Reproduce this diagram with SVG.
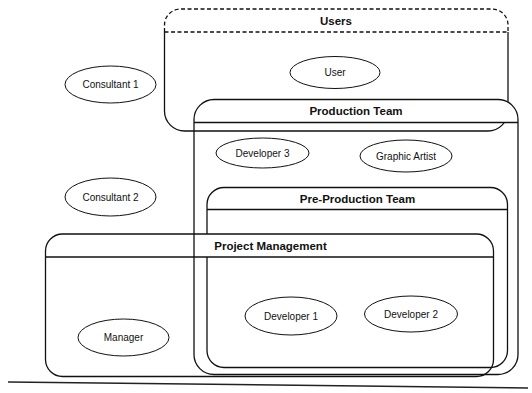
<svg xmlns="http://www.w3.org/2000/svg" width="532" height="393" viewBox="0 0 532 393">
  <style>
    .frame { fill: none; stroke: #111; stroke-width: 1.3; }
    .dash { fill: none; stroke: #111; stroke-width: 1.3; stroke-dasharray: 4 2.5; }
    .mask { fill: #fff; stroke: none; }
    .actor { fill: #fff; stroke: #111; stroke-width: 1; }
    .title { font-family: "Liberation Sans", Arial, sans-serif; font-size: 11.5px; font-weight: bold; fill: #111; text-anchor: middle; }
    .label { font-family: "Liberation Sans", Arial, sans-serif; font-size: 10px; fill: #111; text-anchor: middle; }
  </style>
  <rect width="532" height="393" fill="#fff"/>

  <!-- Users swimlane: dashed header, solid body -->
  <g id="users">
    <path class="dash" d="M164.5,32 V25 A16,16 0 0 1 180.5,9 H492 A16,16 0 0 1 508,25 V32"/>
    <path class="dash" d="M164.5,32 H508"/>
    <path class="frame" d="M508,32 V111 A20,20 0 0 1 488,131 H184.5 A20,20 0 0 1 164.5,111 V32"/>
    <text class="title" x="336" y="24.5">Users</text>
  </g>

  <g id="user">
    <ellipse class="actor" cx="335" cy="72.5" rx="45" ry="16"/>
    <text class="label" x="335" y="76">User</text>
  </g>

  <g id="consultant-1">
    <ellipse class="actor" cx="110.5" cy="84.5" rx="45.5" ry="18.5"/>
    <text class="label" x="110.5" y="88">Consultant 1</text>
  </g>

  <g id="consultant-2">
    <ellipse class="actor" cx="110.5" cy="197" rx="45.5" ry="19"/>
    <text class="label" x="110.5" y="200.5">Consultant 2</text>
  </g>

  <!-- Pre-Production Team -->
  <g id="pre-production-team">
    <rect class="frame" x="207" y="187.5" width="300.5" height="180" rx="17"/>
    <path class="frame" d="M207,209.5 H507.5"/>
    <text class="title" x="357.5" y="202.5">Pre-Production Team</text>
  </g>

  <!-- Project Management: opaque header band -->
  <g id="project-management">
    <path class="mask" d="M45.5,257 V251 A17,17 0 0 1 62.5,234 H476.5 A17,17 0 0 1 493.5,251 V257 Z"/>
    <rect class="frame" x="45.5" y="234" width="448" height="142.5" rx="17"/>
    <path class="frame" d="M45.5,257 H493.5"/>
    <text class="title" x="270.5" y="249.5">Project Management</text>
  </g>

  <!-- Production Team: opaque header band over the Users lane -->
  <g id="production-team">
    <path class="mask" d="M194,122.5 V119.5 A20,20 0 0 1 214,99.5 H498 A20,20 0 0 1 518,119.5 V122.5 Z"/>
    <rect class="frame" x="194" y="99.5" width="324" height="275" rx="20"/>
    <path class="frame" d="M194,122.5 H518"/>
    <text class="title" x="356" y="115">Production Team</text>
  </g>

  <g id="developer-3">
    <ellipse class="actor" cx="262.5" cy="153" rx="46.5" ry="15"/>
    <text class="label" x="262.5" y="156.5">Developer 3</text>
  </g>

  <g id="graphic-artist">
    <ellipse class="actor" cx="406" cy="156" rx="46" ry="16"/>
    <text class="label" x="406" y="159.5">Graphic Artist</text>
  </g>

  <g id="developer-1">
    <ellipse class="actor" cx="291" cy="316" rx="46" ry="19"/>
    <text class="label" x="291" y="319.5">Developer 1</text>
  </g>

  <g id="developer-2">
    <ellipse class="actor" cx="411" cy="314" rx="46.5" ry="18"/>
    <text class="label" x="411" y="317.5">Developer 2</text>
  </g>

  <g id="manager">
    <ellipse class="actor" cx="123.5" cy="337.5" rx="45.5" ry="18.5"/>
    <text class="label" x="123.5" y="341">Manager</text>
  </g>

  <!-- page rule under the figure -->
  <line x1="8" y1="382" x2="528" y2="388" stroke="#222" stroke-width="1.5"/>
</svg>
